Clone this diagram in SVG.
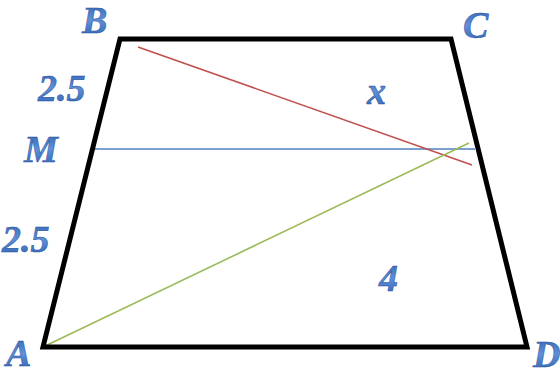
<svg xmlns="http://www.w3.org/2000/svg" width="560" height="368" viewBox="0 0 560 368">
<defs>
<linearGradient id="tg" x1="0" y1="0" x2="0" y2="1">
<stop offset="0" stop-color="#2a5aa8"/>
<stop offset="0.5" stop-color="#5f90d8"/>
<stop offset="1" stop-color="#2c5eae"/>
</linearGradient>
<style>
.lbl{font-family:"Liberation Serif","Times New Roman",serif;font-weight:bold;font-style:italic;font-size:38px;fill:url(#tg);stroke:#1f4d9a;stroke-width:0.5}
.edge{fill:none;stroke:#000;stroke-width:5;stroke-linejoin:miter}
.ln{fill:none;stroke-width:1.6}
</style>
</defs>
<rect width="560" height="368" fill="#fff"/>
<g id="connectors">
<line class="ln" x1="90" y1="149" x2="475" y2="149" stroke="#4f81bd"/>
<line class="ln" x1="138" y1="47" x2="472" y2="165" stroke="#c0504d"/>
<line class="ln" x1="43" y1="347" x2="469" y2="143" stroke="#9bbb59"/>
</g>
<g id="trapezoid">
<polygon class="edge" points="120,39 451,39 527,347 43,347"/>
</g>
<g id="labels">
<text class="lbl" x="82" y="33">B</text>
<text class="lbl" x="463" y="38">C</text>
<text class="lbl" x="6" y="366">A</text>
<text class="lbl" x="533" y="367">D</text>
<text class="lbl" x="24" y="162">M</text>
<text class="lbl" x="38" y="101">2.5</text>
<text class="lbl" x="2" y="252">2.5</text>
<text class="lbl" x="367" y="104">x</text>
<text class="lbl" x="379" y="291">4</text>
</g>
</svg>
